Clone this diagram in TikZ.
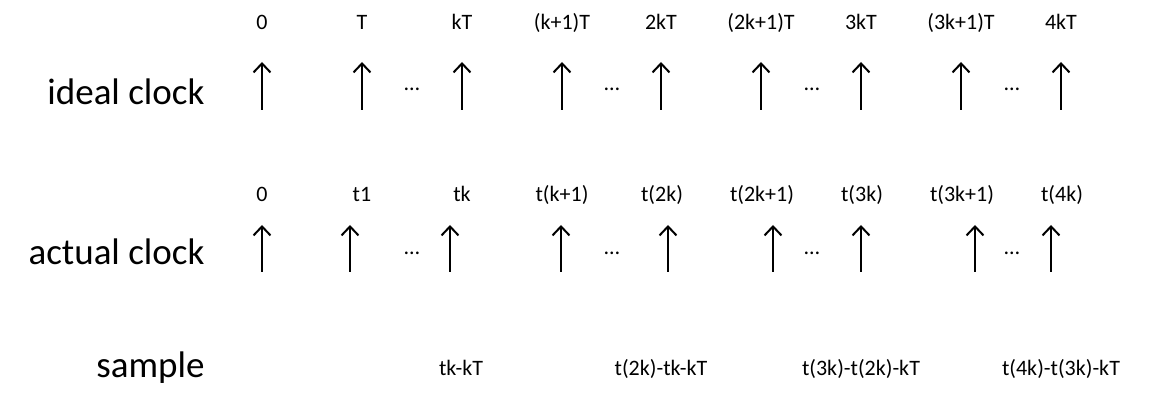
\documentclass[tikz,border=0pt]{standalone}
\usepackage{fontspec}
\setmainfont{Carlito}
\usetikzlibrary{arrows.meta}
\usetikzlibrary{positioning}
\tikzset{
  timing/.style={
    row label/.style={anchor=base east,font={\fontsize{37}{44}\selectfont}},
    tick label/.style={anchor=base,font={\fontsize{22}{26}\selectfont}},
    clock edge/.style={line width=2.2pt,-{Straight Barb[length=9pt,width=17pt,line width=2pt]}},
    gap dots/.style={anchor=base,font={\fontsize{22}{26}\selectfont}},
  }
}

\begin{document}
\begin{tikzpicture}[timing, x=1pt, y=-1pt]
    \useasboundingbox (0,0) rectangle (1162,411);

    % row names
    \node[row label] (ideal) at (208,105) {ideal clock};
    \node[row label] (actual) at (208,265) {actual clock};
    \node[row label] (sample) at (208,378) {sample};

    % ideal clock
    \foreach \x/\n/\t in {262/i0/{0}, 362/i1/{T}, 462/ik/{kT}, 562/ik1/{(k+1)T},
        661/i2k/{2kT}, 761/i2k1/{(2k+1)T}, 861/i3k/{3kT}, 961/i3k1/{(3k+1)T}, 1061/i4k/{4kT}}{
        \coordinate (\n-base) at (\x,110);
        \coordinate (\n-tip) at (\x,62);
        \draw[clock edge] (\n-base) -- (\n-tip);
        \node[tick label] (\n-label) at (\x,30) {\t};
    }

    % actual clock
    \foreach \x/\l/\n/\t in {262/262/a0/{0}, 350/362/a1/{t1}, 450/462/ak/{tk}, 561/562/ak1/{t(k+1)},
        668/662/a2k/{t(2k)}, 773/762/a2k1/{t(2k+1)}, 861/862/a3k/{t(3k)}, 975/962/a3k1/{t(3k+1)}, 1051/1062/a4k/{t(4k)}}{
        \coordinate (\n-base) at (\x,272);
        \coordinate (\n-tip) at (\x,225);
        \draw[clock edge] (\n-base) -- (\n-tip);
        \node[tick label] (\n-label) at (\l,202) {\t};
    }

    % gaps
    \foreach \x/\n in {412/g1, 612/g2, 812/g3, 1012/g4}{
        \node[gap dots] (\n-ideal) at (\x,91) {…};
        \node[gap dots] (\n-actual) at (\x,255) {…};
    }

    % samples
    \foreach \x/\n/\t in {461/s1/{tk-kT}, 661/s2/{t(2k)-tk-kT}, 861/s3/{t(3k)-t(2k)-kT}, 1061/s4/{t(4k)-t(3k)-kT}}{
        \node[tick label] (\n) at (\x,376) {\t};
    }
\end{tikzpicture}
\end{document}
